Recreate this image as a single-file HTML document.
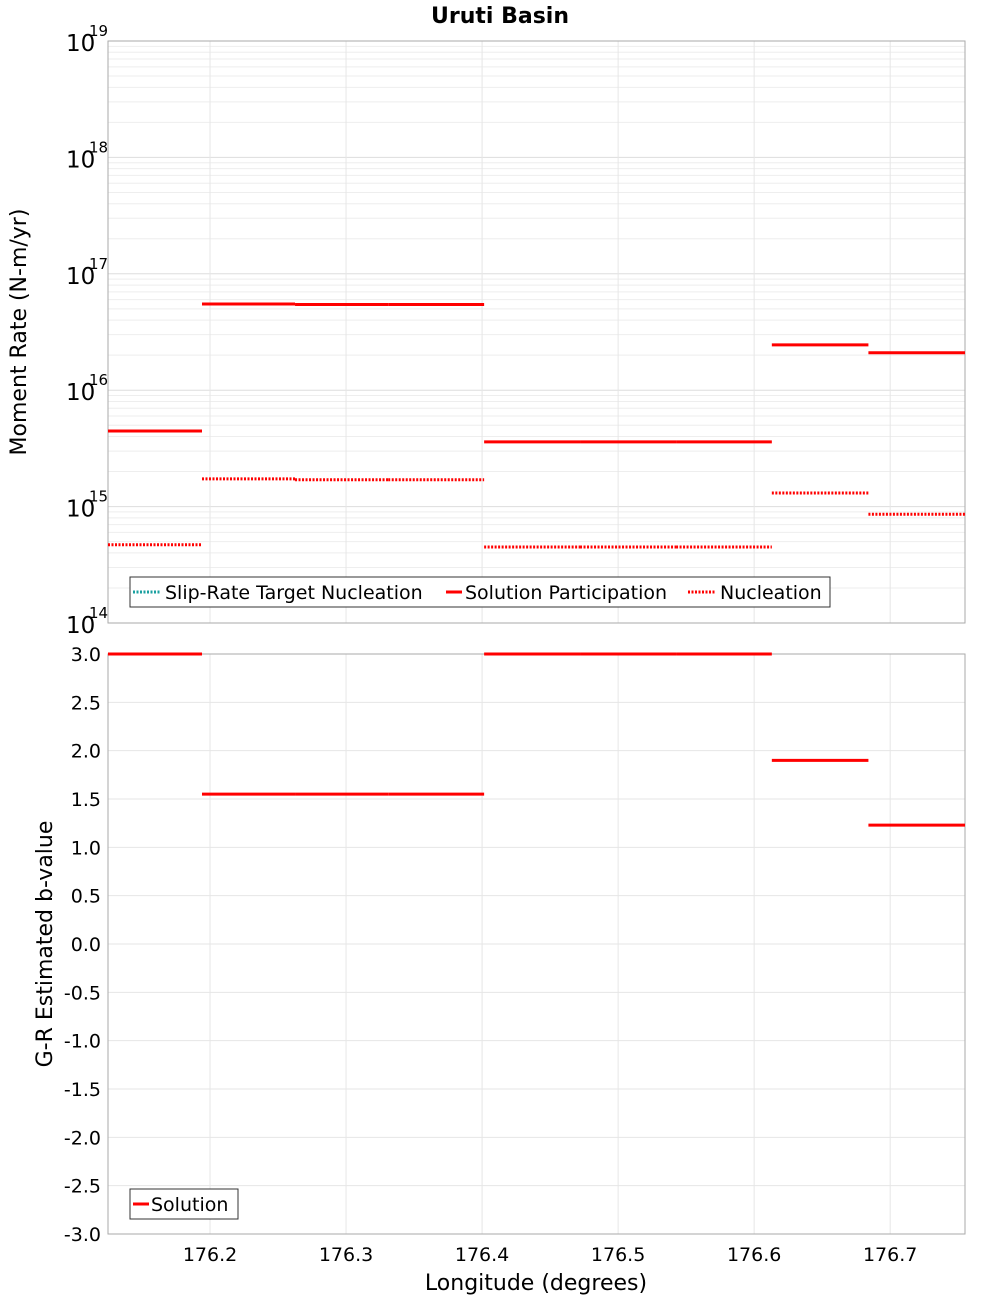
<!DOCTYPE html>
<html><head><meta charset="utf-8"><style>
body{margin:0;background:#fff;font-family:"Liberation Sans","DejaVu Sans",sans-serif}
svg text{font-family:"DejaVu Sans","Liberation Sans",sans-serif}
</style></head><body>
<svg id="chart" width="1000" height="1300" xmlns="http://www.w3.org/2000/svg">
<text x="500" y="23" text-anchor="middle" font-size="22" font-weight="bold">Uruti Basin</text>
<g id="topPanel"></g>
<g id="botPanel"></g>
<text transform="translate(26,332) rotate(-90)" text-anchor="middle" font-size="22">Moment Rate (N-m/yr)</text>
<text transform="translate(52,944) rotate(-90)" text-anchor="middle" font-size="22">G-R Estimated b-value</text>
<text x="536" y="1290" text-anchor="middle" font-size="22">Longitude (degrees)</text>
</svg>
<script>
const segEdges=[176.125,176.1941,176.2625,176.331,176.4015,176.472,176.5426,176.613,176.684,176.755];
const participation=[4.46e15,5.5e16,5.45e16,5.45e16,3.6e15,3.6e15,3.6e15,2.45e16,2.1e16];
const nucleation=[4.7e14,1.73e15,1.7e15,1.7e15,4.5e14,4.5e14,4.5e14,1.31e15,8.6e14];
const bValues=[3.0,1.55,1.55,1.55,3.0,3.0,3.0,1.9,1.23];
const xTicks=[176.2,176.3,176.4,176.5,176.6,176.7];
const logTicks=[14,15,16,17,18,19];
const bTicks=[3,2.5,2,1.5,1,0.5,0,-0.5,-1,-1.5,-2,-2.5,-3];
const NS="http://www.w3.org/2000/svg";
const L=108,R=965,T1=41,B1=623,T2=654,B2=1234;
const xs=v=>L+(v-176.125)/(176.755-176.125)*(R-L);
const ys1=v=>B1-(Math.log10(v)-14)/5*(B1-T1);
const ys2=v=>B2-(v+3)/6*(B2-T2);
function mk(p,tag,a,name,txt){const e=document.createElementNS(NS,tag);for(const k in a)e.setAttribute(k,a[k]);


if(txt!==undefined)e.textContent=txt;p.appendChild(e);return e;}
const topG=document.getElementById('topPanel'),botG=document.getElementById('botPanel');
for(let d=14;d<19;d++)for(let m=2;m<=9;m++){const y=ys1(m*Math.pow(10,d));mk(topG,'line',{x1:L,x2:R,y1:y,y2:y,stroke:'#eee','stroke-width':1},'minor-gridline');}
logTicks.forEach(t=>{const y=ys1(Math.pow(10,t));mk(topG,'line',{x1:L,x2:R,y1:y,y2:y,stroke:'#ddd','stroke-width':1},'major-gridline');
mk(topG,'text',{x:66,y:y+10,'font-size':23},'y-tick-label','10');
mk(topG,'text',{x:89,y:y-5,'font-size':15},'y-tick-exponent',String(t));});
bTicks.forEach(t=>{const y=ys2(t);mk(botG,'line',{x1:L,x2:R,y1:y,y2:y,stroke:'#e6e6e6'},'gridline');
mk(botG,'text',{x:101,y:y+7,'font-size':19,'text-anchor':'end'},'y-tick-label',t.toFixed(1));});
xTicks.forEach(t=>{const x=xs(t);
mk(topG,'line',{x1:x,x2:x,y1:T1,y2:B1,stroke:'#e6e6e6'},'gridline');
mk(botG,'line',{x1:x,x2:x,y1:T2,y2:B2,stroke:'#e6e6e6'},'gridline');
mk(botG,'text',{x:x,y:1261,'font-size':19,'text-anchor':'middle'},'x-tick-label',t.toFixed(1));});
mk(topG,'rect',{x:L,y:T1,width:R-L,height:B1-T1,fill:'none',stroke:'#aaa'},'plot-frame');
mk(botG,'rect',{x:L,y:T2,width:R-L,height:B2-T2,fill:'none',stroke:'#aaa'},'plot-frame');
for(let i=0;i<participation.length;i++){
const x1=xs(segEdges[i]),x2=xs(segEdges[i+1]);
mk(topG,'line',{x1,x2,y1:ys1(participation[i]),y2:ys1(participation[i]),stroke:'#f00','stroke-width':3},'participation-segment');
mk(topG,'line',{x1,x2,y1:ys1(nucleation[i]),y2:ys1(nucleation[i]),stroke:'#f00','stroke-width':3,'stroke-dasharray':'2,1.5'},'nucleation-segment');
mk(botG,'line',{x1,x2,y1:ys2(bValues[i]),y2:ys2(bValues[i]),stroke:'#f00','stroke-width':3},'b-value-segment');}
mk(topG,'rect',{x:130,y:577,width:700,height:30,fill:'#fff',stroke:'#333'},'legend');
mk(topG,'line',{x1:133,x2:161,y1:592,y2:592,stroke:'#1aa0a0','stroke-width':3,'stroke-dasharray':'2,1.5'},'legend-swatch-slip-rate');
mk(topG,'text',{x:165,y:599,'font-size':19},'legend-label','Slip-Rate Target Nucleation');
mk(topG,'line',{x1:446,x2:462,y1:592,y2:592,stroke:'#f00','stroke-width':3},'legend-swatch-participation');
mk(topG,'text',{x:465,y:599,'font-size':19},'legend-label','Solution Participation');
mk(topG,'line',{x1:688,x2:716,y1:592,y2:592,stroke:'#f00','stroke-width':3,'stroke-dasharray':'2,1.5'},'legend-swatch-nucleation');
mk(topG,'text',{x:720,y:599,'font-size':19},'legend-label','Nucleation');
mk(botG,'rect',{x:130,y:1189,width:108,height:30,fill:'#fff',stroke:'#333'},'legend');
mk(botG,'line',{x1:133,x2:149,y1:1204,y2:1204,stroke:'#f00','stroke-width':3},'legend-swatch-solution');
mk(botG,'text',{x:151,y:1211,'font-size':19},'legend-label','Solution');
</script>
</body></html>
